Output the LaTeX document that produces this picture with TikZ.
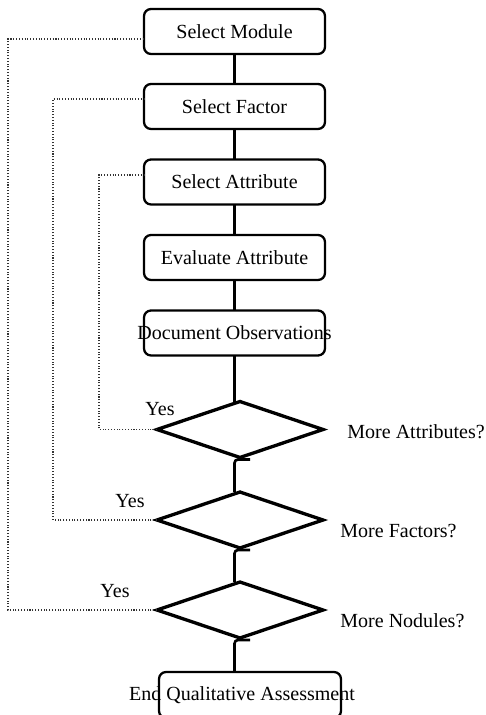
\documentclass[tikz,border=0pt]{standalone}
\usepackage{fontspec}
\setmainfont{Liberation Serif}
\usetikzlibrary{shapes.geometric,calc}

\tikzset{
  box/.style={draw,rounded corners=4pt,line width=1.3pt,minimum width=3.62cm,minimum height=0.9cm,inner sep=0pt,outer sep=0pt},
  decision/.style={draw,diamond,line width=1.9pt,minimum width=3.32cm,minimum height=1.12cm,inner sep=0pt,outer sep=0pt},
  link/.style={line width=1.5pt},
  loopline/.style={densely dotted,line width=0.6pt,black!80},
  txt/.style={inner sep=0pt}
}

\begin{document}
\begin{tikzpicture}[x=0.02cm,y=-0.02cm,font=\fontsize{11.4}{13.7}\selectfont]
  \useasboundingbox (0,0) rectangle (485,715);

  % steps
  \node[box] (module) at (234.5,31.5) {Select Module};
  \node[box] (factor) at (234.5,106.5) {Select Factor};
  \node[box] (attr) at (234.5,182) {Select Attribute};
  \node[box] (eval) at (234.5,257.5) {Evaluate Attribute};
  \node[box] (obs) at (234.5,333) {\makebox[0pt]{Document Observations}};

  % decisions
  \node[decision] (moreattr) at (240,429.5) {};
  \node[decision] (morefact) at (240,520) {};
  \node[decision] (moremod) at (240,610) {};
  \node[txt,anchor=west] (qattr) at (347,432) {More Attributes?};
  \node[txt,anchor=west] (qfact) at (340,531) {More Factors?};
  \node[txt,anchor=west] (qmod) at (340,621) {More Nodules?};
  \node[txt] (yes1) at (160,409) {Yes};
  \node[txt] (yes2) at (130,501) {Yes};
  \node[txt] (yes3) at (115,591) {Yes};

  \node[box,minimum width=3.64cm,minimum height=0.92cm] (done) at (250,695) {\makebox[0pt]{\hspace{-0.32cm}End Qualitative Assessment}};

  % main line
  \draw[link] (module) -- (factor);
  \draw[link] (factor) -- (attr);
  \draw[link] (attr) -- (eval);
  \draw[link] (eval) -- (obs);
  \draw[link] (obs) -- ($(obs |- moreattr.north)+(0,2)$);
  \draw[link,rounded corners=2pt] (obs |- morefact.north) |- ($(moreattr.south)+(10,2)$);
  \draw[link,rounded corners=2pt] (obs |- moremod.north) |- ($(morefact.south)+(10,2)$);
  \draw[link,rounded corners=2pt] (obs |- done.north) |- ($(moremod.south)+(10,2)$);

  % yes loops
  \draw[loopline] (moreattr.west) -- ++(-58,0) |- ($(attr.west)+(0,-7)$);
  \draw[loopline] (morefact.west) -- ++(-104,0) |- ($(factor.west)+(0,-7.5)$);
  \draw[loopline] (moremod.west) -- ++(-149,0) |- ($(module.west)+(0,7.5)$);
\end{tikzpicture}
\end{document}
